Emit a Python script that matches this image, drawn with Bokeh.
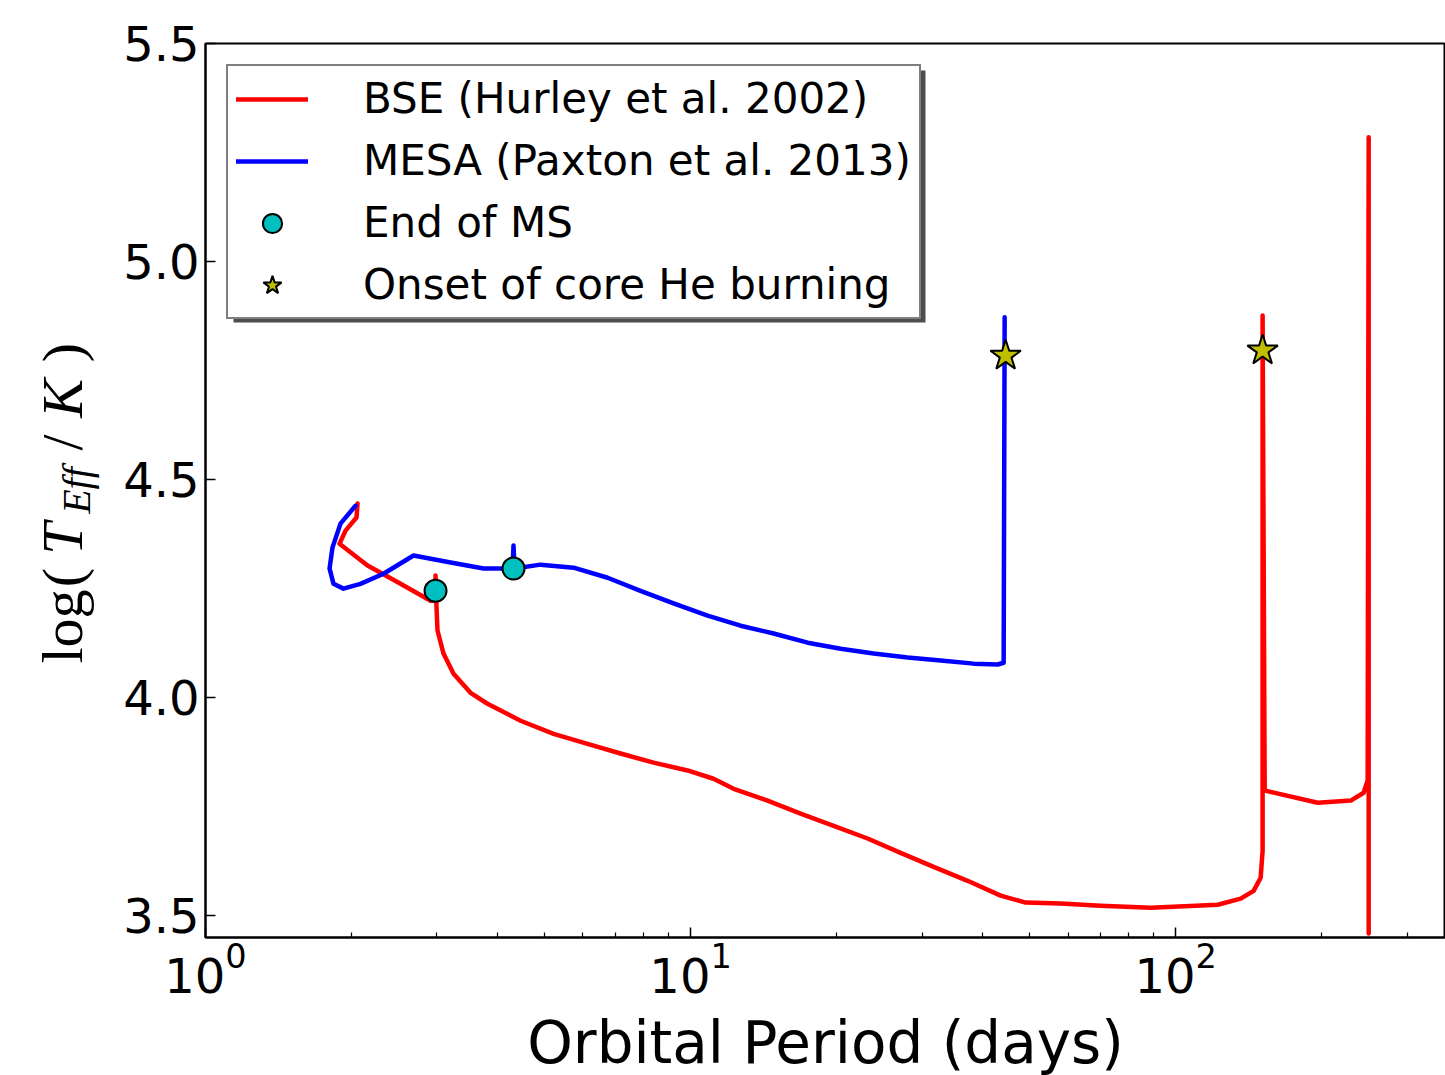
import numpy as np
from bokeh.plotting import figure
from bokeh.layouts import row
from bokeh.core.properties import value
from bokeh.models import (FixedTicker, PrintfTickFormatter, LogTickFormatter, Legend,
                          LegendItem, BoxAnnotation, Range1d)
from bokeh.embed import file_html
from bokeh.resources import INLINE

# ---- data ----
bse_period = [2.058, 2.048, 1.944, 1.889, 2.158, 2.524, 2.911, 2.980, 2.980, 2.990,
              3.008, 3.095, 3.246, 3.519, 3.814, 4.462, 5.219, 6.132, 7.172, 8.388,
              9.858, 11.15, 12.27, 14.41, 16.86, 19.72, 23.17, 27.10, 31.70, 37.25,
              43.57, 49.07, 57.93, 70.03, 88.82, 122.1, 136.2, 144.8, 149.7, 151.1,
              151.1, 152.6, 196.3, 229.6, 244.1, 248.8, 250.0, 250.0]
bse_logteff = [4.445, 4.413, 4.383, 4.353, 4.303, 4.261, 4.222, 4.222, 4.280, 4.222,
               4.154, 4.101, 4.055, 4.011, 3.986, 3.947, 3.917, 3.894, 3.872, 3.851,
               3.833, 3.814, 3.791, 3.764, 3.734, 3.706, 3.677, 3.644, 3.612, 3.580,
               3.546, 3.530, 3.528, 3.523, 3.518, 3.525, 3.539, 3.557, 3.587, 3.649,
               4.876, 3.787, 3.759, 3.764, 3.782, 3.810, 5.285, 3.459]

mesa_period = [2.038, 1.898, 1.827, 1.802, 1.836, 1.925, 2.087, 2.328, 2.685, 3.201,
               3.744, 4.295, 4.315, 4.336, 4.905, 5.738, 6.745, 7.885, 9.225, 10.84,
               12.68, 14.83, 17.43, 20.39, 23.84, 28.03, 32.78, 38.32, 42.96, 44.20,
               44.41]
mesa_logteff = [4.440, 4.399, 4.344, 4.296, 4.261, 4.250, 4.261, 4.284, 4.326, 4.310,
                4.296, 4.296, 4.349, 4.296, 4.305, 4.298, 4.275, 4.245, 4.216, 4.188,
                4.165, 4.147, 4.126, 4.112, 4.101, 4.092, 4.085, 4.078, 4.076, 4.080,
                4.872]

ms_end_period = [2.980, 4.315]
ms_end_logteff = [4.245, 4.296]

he_onset_period = [44.62, 151.1]
he_onset_logteff = [4.784, 4.796]

x_major = [1, 10, 100]
x_minor = [2, 3, 4, 5, 6, 7, 8, 9, 20, 30, 40, 50, 60, 70, 80, 90, 200, 300]
y_ticks = [3.5, 4.0, 4.5, 5.0, 5.5]

legend_labels = ["BSE (Hurley et al. 2002)", "MESA (Paxton et al. 2013)",
                 "End of MS", "Onset of core He burning"]

# ---- main figure ----
p = figure(frame_width=1240, frame_height=894, x_axis_type="log",
           x_range=Range1d(1, 360), y_range=Range1d(3.45, 5.5),
           output_backend="svg", toolbar_location=None,
           min_border_left=95, min_border_top=43, min_border_right=0,
           min_border_bottom=138)
p.background_fill_color = "white"
p.border_fill_color = "white"
p.outline_line_color = "black"
p.outline_line_width = 2
p.grid.visible = False

r_bse = p.line(bse_period, bse_logteff, line_color="#ff0000", line_width=4.5,
               line_join="round", line_cap="round")
r_mesa = p.line(mesa_period, mesa_logteff, line_color="#0000ff", line_width=4.5,
                line_join="round", line_cap="round")
r_ms = p.scatter(ms_end_period, ms_end_logteff, marker="circle", size=22,
                 fill_color="#00bfbf", line_color="black", line_width=2)
r_he = p.scatter(he_onset_period, he_onset_logteff, marker="star", size=32,
                 fill_color="#bfbf00", line_color="black", line_width=2)

# axes
xa = p.xaxis[0]
xa.ticker = FixedTicker(ticks=x_major, minor_ticks=x_minor)
xa.formatter = LogTickFormatter()
xa.axis_label = "Orbital Period (days)"
ya = p.yaxis[0]
ya.ticker = FixedTicker(ticks=y_ticks)
ya.formatter = PrintfTickFormatter(format="%.1f")
ya.axis_label = None

for ax in (xa, ya):
    ax.axis_line_color = "black"
    ax.axis_line_width = 2
    ax.major_tick_in = 10
    ax.major_tick_out = 0
    ax.minor_tick_in = 5
    ax.minor_tick_out = 0
    ax.major_tick_line_width = 1.5
    ax.minor_tick_line_width = 1.2
    ax.major_label_text_font = "DejaVu Sans"
    ax.major_label_text_font_size = "48px"
    ax.major_label_text_color = "black"
ya.minor_tick_line_color = None
xa.major_label_standoff = 4
ya.major_label_standoff = 6
xa.axis_label_text_font = "DejaVu Sans"
xa.axis_label_text_font_size = "58px"
xa.axis_label_text_font_style = "normal"
xa.axis_label_text_color = "black"
xa.axis_label_standoff = 13

# legend shadow (canvas units of the main figure, which starts 110 px from the left)
p.add_layout(BoxAnnotation(left=123, right=815, top=70, bottom=322,
                           left_units="canvas", right_units="canvas",
                           top_units="canvas", bottom_units="canvas",
                           fill_color="#4d4d4d", fill_alpha=1.0, line_color=None))

legend = Legend(items=[LegendItem(label=legend_labels[0], renderers=[r_bse]),
                       LegendItem(label=legend_labels[1], renderers=[r_mesa]),
                       LegendItem(label=legend_labels[2], renderers=[r_ms]),
                       LegendItem(label=legend_labels[3], renderers=[r_he])],
                location="top_left", margin=21, padding=8, spacing=13,
                label_height=48, glyph_height=48, glyph_width=72, label_standoff=55,
                label_text_font="DejaVu Sans", label_text_font_size="42px",
                label_text_color="black", border_line_color="black",
                border_line_width=2, background_fill_color="white",
                background_fill_alpha=1.0)
p.add_layout(legend)

# ---- left strip carrying the y-axis label log(T_Eff/K) ----
# its frame is aligned with the main frame (canvas y 43..937); the reversed range
# makes the label positions plain page pixels
q = figure(frame_width=110, frame_height=894, x_range=Range1d(0, 110),
           y_range=Range1d(937, 43), output_backend="svg", toolbar_location=None,
           min_border=0, min_border_top=43, x_axis_location=None,
           y_axis_location=None)
q.outline_line_color = None
q.grid.visible = False
q.background_fill_color = "white"
q.border_fill_color = "white"

def piece(txt, x, y, size, style):
    q.text(x=[x], y=[y], text=[txt], angle=np.pi / 2, text_align="center",
           text_baseline="middle", text_font=value("Liberation Serif"),
           text_font_size=value(size), text_font_style=style, text_color="black")

piece("log", 62, 626, "58px", "normal")
piece("(", 62, 577, "58px", "normal")
piece("T", 62, 538, "58px", "italic")
piece("Eff", 76, 490, "40px", "italic")
piece("/", 62, 442, "58px", "normal")
piece("K", 62, 398, "58px", "italic")
piece(")", 62, 352, "58px", "normal")

layout = row(q, p)
open("out.html", "w").write(file_html(layout, INLINE))
